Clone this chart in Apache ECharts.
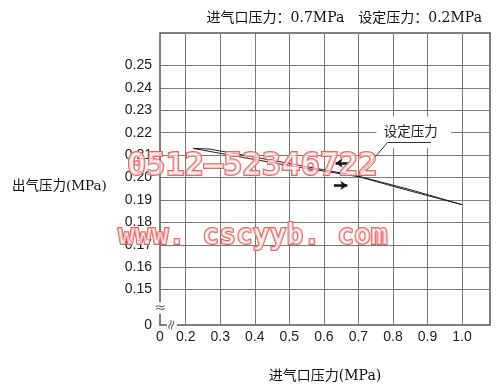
<!DOCTYPE html>
<html>
<head>
<meta charset="utf-8">
<script src="https://cdn.jsdelivr.net/npm/echarts@6/dist/echarts.min.js"></script>
<style>html,body{margin:0;padding:0;background:#fff}#c{width:500px;height:388px}</style>
</head>
<body>
<div id="c"></div>
<script>
// ---- data (real units, MPa) ----
const xTicks = [0.2, 0.3, 0.4, 0.5, 0.6, 0.7, 0.8, 0.9, 1.0];
const yTicks = [0.15, 0.16, 0.17, 0.18, 0.19, 0.20, 0.21, 0.22, 0.23, 0.24, 0.25];
const inletA  = [0.222, 0.27, 0.50, 0.70, 0.85, 1.00];
const outletA = [0.2130, 0.2127, 0.2063, 0.2006, 0.1946, 0.1879];
const inletB  = [0.222, 0.30, 0.50, 0.70, 0.85, 1.00];
const outletB = [0.2130, 0.2108, 0.2053, 0.2004, 0.1940, 0.1879];
const titleText = '进气口压力：0.7MPa　设定压力：0.2MPa';
const xName = '进气口压力(MPa)';
const yName = '出气压力(MPa)';
const calloutText = '设定压力';

// ---- broken-axis mapping (0 .. 0.2 and 0 .. 0.15 are compressed) ----
const xv = v => (v - 0.2) * 10;
const yv = v => (v - 0.15) * 100;
const X_ZERO = -0.745, X_MAX = 8.81;
const Y_ZERO = -1.58, Y_MAX = 11.45;

const grid = '#7a7a7a';
const chart = echarts.init(document.getElementById('c'), null, {renderer: 'canvas'});

const option = {
  animation: false,
  backgroundColor: '#fff',
  title: {
    text: titleText, right: 13, top: 6,
    textStyle: {fontSize: 14, fontWeight: 'normal', color: '#111',
      fontFamily: '"DejaVu Serif","Noto Sans CJK SC"'}
  },
  grid: {left: 160, right: 10, top: 33, bottom: 59, show: true,
    borderColor: '#555', borderWidth: 1.5, backgroundColor: 'transparent'},
  xAxis: {
    type: 'value', min: X_ZERO, max: X_MAX,
    axisLine: {show: false}, axisTick: {show: false}, splitLine: {show: false},
    axisLabel: {
      customValues: [X_ZERO].concat(xTicks.map(xv)),
      margin: 5, fontSize: 14, color: '#222', fontFamily: '"Liberation Sans", Arial',
      formatter: v => (v < -0.5 ? '0' : (0.2 + v / 10).toFixed(1))
    },
    name: xName, nameLocation: 'middle', nameGap: 44,
    nameTextStyle: {fontSize: 14, color: '#111', fontFamily: '"DejaVu Serif","Noto Sans CJK SC"'}
  },
  yAxis: {
    type: 'value', min: Y_ZERO, max: Y_MAX,
    axisLine: {show: false}, axisTick: {show: false}, splitLine: {show: false},
    axisLabel: {
      customValues: [Y_ZERO].concat(yTicks.map(yv)),
      margin: 8, fontSize: 14, color: '#222', fontFamily: '"Liberation Sans", Arial',
      formatter: v => (v < -1 ? '0' : (0.15 + v / 100).toFixed(2))
    }
  },
  series: [
    {
      type: 'line', data: [], silent: true, z: 1,
      markLine: {
        z: 1, silent: true, symbol: ['none', 'none'], label: {show: false},
        lineStyle: {color: grid, width: 1, type: 'solid'},
        emphasis: {disabled: true},
        data: xTicks.map(t => ({xAxis: xv(t)})).concat(yTicks.map(t => ({yAxis: yv(t)})))
      }
    },
    {
      type: 'line', z: 3, symbol: 'none', silent: true,
      lineStyle: {color: '#222', width: 1},
      data: inletA.map((x, i) => [xv(x), yv(outletA[i])]),
      markArea: {
        z: 2, silent: true,
        itemStyle: {color: '#fff'},
        label: {show: true, position: 'inside', offset: [-3, -1.5], formatter: calloutText,
          fontSize: 13.5, color: '#222', fontFamily: '"Noto Sans CJK SC"'},
        data: [[{coord: [xv(0.7523), yv(0.2272)]}, {coord: [xv(0.9683), yv(0.2131)]}]]
      },
      markLine: {
        z: 6, silent: true, symbol: ['none', 'none'], label: {show: false},
        lineStyle: {color: '#333', width: 1, type: 'solid'},
        data: [
          [{coord: [xv(0.70), yv(0.2005)]}, {coord: [xv(0.7843), yv(0.2156)]}],
          [{coord: [xv(0.7843), yv(0.2156)]}, {coord: [xv(0.9102), yv(0.2156)]}]
        ]
      }
    },
    {
      type: 'line', z: 3, symbol: 'none', silent: true,
      lineStyle: {color: '#222', width: 1},
      data: inletB.map((x, i) => [xv(x), yv(outletB[i])]),
      markLine: {
        z: 6, silent: true, symbol: ['none', 'arrow'], symbolSize: [7, 7], label: {show: false},
        lineStyle: {color: '#111', width: 2.5, type: 'solid'},
        data: [
          [{coord: [xv(0.672), yv(0.2065)]}, {coord: [xv(0.634), yv(0.2065)]}],
          [{coord: [xv(0.629), yv(0.1965)]}, {coord: [xv(0.668), yv(0.1965)]}]
        ]
      }
    }
  ]
};
chart.setOption(option);

// decorations: axis-break marks, y-axis name, watermark
const pY = chart.convertToPixel({gridIndex: 0}, [X_ZERO, -0.82]);
const pX = chart.convertToPixel({gridIndex: 0}, [-0.40, Y_ZERO]);
const wmStyle = {fill: 'rgba(255,250,250,0.6)', stroke: '#f06262', lineWidth: 2};
chart.setOption({
  graphic: [
    {type: 'rect', shape: {x: pY[0] - 4, y: pY[1] - 6, width: 8, height: 12}, style: {fill: '#fff'}, z: 50},
    {type: 'text', x: pY[0], y: pY[1], z: 51, style: {text: '≈', fill: '#666', font: '14px "DejaVu Sans"', align: 'center', verticalAlign: 'middle'}},
    {type: 'rect', shape: {x: pX[0] - 5, y: pX[1] - 4, width: 10, height: 8}, style: {fill: '#fff'}, z: 50},
    {type: 'text', x: pX[0], y: pX[1], rotation: Math.PI / 2 - 0.3, z: 51, style: {text: '≈', fill: '#666', font: '14px "DejaVu Sans"', align: 'center', verticalAlign: 'middle'}},
    {type: 'text', x: 12, y: 186, z: 20, style: {text: yName, fill: '#111', font: '13.5px "DejaVu Serif","Noto Sans CJK SC"', verticalAlign: 'middle'}},
    {type: 'text', x: 127, y: 167, z: 30, style: Object.assign({text: '0512–52346722', font: 'bold 32px "DejaVu Sans Mono"', verticalAlign: 'middle'}, wmStyle)},
    {type: 'text', x: 118, y: 223, z: 30, style: Object.assign({text: 'www. cscyyb. com', font: 'bold 28px "DejaVu Sans Mono"', verticalAlign: 'alphabetic'}, wmStyle)}
  ]
});
</script>
</body>
</html>
